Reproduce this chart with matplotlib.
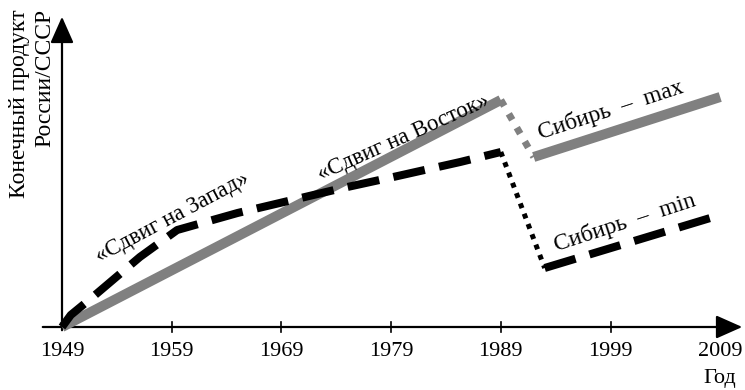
import matplotlib
matplotlib.use("Agg")
import matplotlib.pyplot as plt
from matplotlib.patches import FancyArrowPatch

# Data (values in arbitrary units)
tick_years = [1949, 1959, 1969, 1979, 1989, 1999, 2009]

east_years = [1949, 1989]
east_vals = [0, 227]
east_drop_years = [1989, 1992]
east_drop_vals = [227, 170]
sib_max_years = [1992, 2009]
sib_max_vals = [170, 230]

west_years = [1949, 1949.8, 1951.8, 1956.1, 1959.5, 1965, 1970, 1974.6, 1979.2, 1985.3, 1989]
west_vals = [0, 12, 30, 70, 97, 114, 127, 139, 150, 165, 175]
west_drop_years = [1989, 1993]
west_drop_vals = [175, 59]
sib_min_years = [1993, 2009]
sib_min_vals = [59, 112]

FONT = ["Liberation Serif", "DejaVu Serif"]
plt.rcParams['font.family'] = FONT

fig = plt.figure(figsize=(7.45, 3.9), dpi=100)
ax = fig.add_axes([0, 0, 1, 1])
ax.set_axis_off()
px = 10.97  # pixels per year
ax.set_xlim(1949 - 62 / px, 1949 + 683 / px)
ax.set_ylim(-63, 327)

# axes with arrows
ax.add_patch(FancyArrowPatch((1949 - 22 / px, 0), (1949 + 683 / px, 0),
                             arrowstyle='-|>,head_length=0.9,head_width=0.4',
                             mutation_scale=18, lw=1.6, color='black'))
ax.add_patch(FancyArrowPatch((1949, -6), (1949, 313),
                             arrowstyle='-|>,head_length=0.9,head_width=0.4',
                             mutation_scale=18, lw=1.6, color='black'))
for y in tick_years:
    if y != 1949:
        ax.plot([y, y], [-5, 5], color='black', lw=1.2)
    ax.text(y, -25, str(y), ha='center', va='center', fontsize=16)
ax.text(2009 + 16 / px, -51, "Год", ha='right', va='center', fontsize=16)

ax.text(1949 - 42 / px, 318, "Конечный продукт", rotation=90, ha='center', va='top', fontsize=17)
ax.text(1949 - 17 / px, 318, "России/СССР", rotation=90, ha='center', va='top', fontsize=17)

gray = '#808080'
ax.plot(east_years, east_vals, color=gray, lw=7.2, solid_capstyle='butt', zorder=2)
ax.plot(east_drop_years, east_drop_vals, color=gray, lw=5, dashes=(1, 1.3), zorder=2)
ax.plot(sib_max_years, sib_max_vals, color=gray, lw=7.2, solid_capstyle='butt', zorder=2)

ax.plot(west_years, west_vals, color='black', lw=5.8, dashes=(4, 1.8), zorder=3)
ax.plot(west_drop_years, west_drop_vals, color='black', lw=3.6, dashes=(1, 1.2), zorder=3)
ax.plot(sib_min_years, sib_min_vals, color='black', lw=5.8, dashes=(4, 1.8), zorder=3)

ax.text(1949 + (172 - 62) / px, 327 - 218, "«Сдвиг на Запад»", rotation=28,
        ha='center', va='center', fontsize=16.5, rotation_mode='anchor')
ax.text(1949 + (404 - 62) / px, 327 - 138, "«Сдвиг на Восток»", rotation=24,
        ha='center', va='center', fontsize=16.5, rotation_mode='anchor')
ax.text(1949 + (611 - 62) / px, 327 - 110, "Сибирь  –  max", rotation=18,
        ha='center', va='center', fontsize=17, rotation_mode='anchor')
ax.text(1949 + (625 - 62) / px, 327 - 223, "Сибирь  –  min", rotation=18,
        ha='center', va='center', fontsize=17, rotation_mode='anchor')

fig.savefig("out.png", dpi=100)
